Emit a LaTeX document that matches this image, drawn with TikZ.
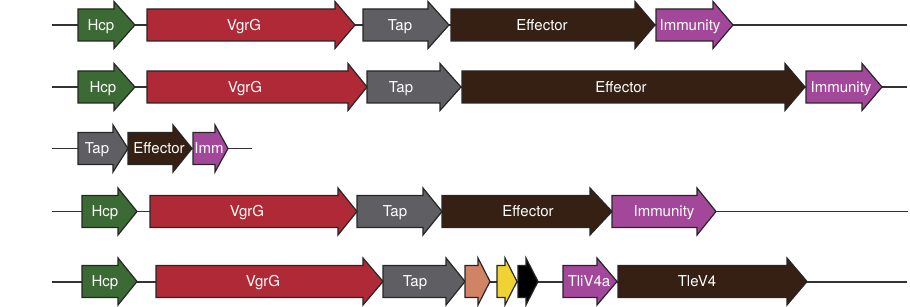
\documentclass[tikz,border=0pt]{standalone}
\usepackage{fontspec}
\setmainfont{TeX Gyre Heros}
\usepackage{xcolor}
\usepackage{tikz}
\usetikzlibrary{positioning}

\definecolor{hcpgreen}{HTML}{3B6A34}
\definecolor{vgrgred}{HTML}{AF2A36}
\definecolor{tapgrey}{HTML}{5F5E63}
\definecolor{effbrown}{HTML}{352013}
\definecolor{immpurple}{HTML}{A3479A}
\definecolor{orfsalmon}{HTML}{D08365}
\definecolor{orfyellow}{HTML}{EFD332}

% gene arrow: left end, head base, tip, y, fill colour
\newcommand{\gene}[5]{%
  \draw[genebox, fill=#5] (#1,#4-16) -- (#2,#4-16) -- (#2,#4-23.5) -- (#3,#4)
    -- (#2,#4+23.5) -- (#2,#4+16) -- (#1,#4+16) -- cycle;}

\begin{document}
\begin{tikzpicture}[
  x=1pt, y=-1pt,
  genebox/.style={draw=black!85, line width=1.2pt, line join=miter},
  genelabel/.style={text=white, font=\fontsize{15}{17}\selectfont, inner sep=0pt,
    text height=10.8pt, text depth=0pt},
  backbone/.style={draw=black!80, line width=1.4pt}
]
  \useasboundingbox (0,0) rectangle (910,307);

  % row 1
  \coordinate (r1s) at (52,25);
  \coordinate (r1e) at (907,25);
  \draw[backbone] (r1s) -- (r1e);
  \gene{78}{114}{135}{25}{hcpgreen}
  \gene{147}{335}{355}{25}{vgrgred}
  \gene{363}{428}{449}{25}{tapgrey}
  \gene{451}{635}{655}{25}{effbrown}
  \gene{656}{713}{733}{25}{immpurple}
  \node[genelabel] (r1hcp) at (101,25) {Hcp};
  \node[genelabel] (r1vgrg) at (244,25) {VgrG};
  \node[genelabel] (r1tap) at (400,25) {Tap};
  \node[genelabel] (r1eff) at (542,25) {Effector};
  \node[genelabel] (r1imm) at (690,25) {Immunity};

  % row 2
  \coordinate (r2s) at (52,87);
  \coordinate (r2e) at (907,87);
  \draw[backbone] (r2s) -- (r2e);
  \gene{78}{114}{135}{87}{hcpgreen}
  \gene{147}{348}{367}{87}{vgrgred}
  \gene{367}{440}{461}{87}{tapgrey}
  \gene{462}{785}{805}{87}{effbrown}
  \gene{806}{862}{882}{87}{immpurple}
  \node[genelabel] (r2hcp) at (103,87) {Hcp};
  \node[genelabel] (r2vgrg) at (245,87) {VgrG};
  \node[genelabel] (r2tap) at (401,87) {Tap};
  \node[genelabel] (r2eff) at (621,87) {Effector};
  \node[genelabel] (r2imm) at (841,87) {Immunity};

  % row 3
  \coordinate (r3s) at (52,148.5);
  \coordinate (r3e) at (252,148.5);
  \draw[backbone] (r3s) -- (r3e);
  \gene{78}{113}{128}{148.5}{tapgrey}
  \gene{128}{173}{192}{148.5}{effbrown}
  \gene{193}{215}{228}{148.5}{immpurple}
  \node[genelabel] (r3tap) at (97,148.5) {Tap};
  \node[genelabel] (r3eff) at (159,148.5) {Effector};
  \node[genelabel] (r3imm) at (209,148.5) {Imm};

  % row 4
  \coordinate (r4s) at (52,211.5);
  \coordinate (r4e) at (908,211.5);
  \draw[backbone] (r4s) -- (r4e);
  \gene{82}{118}{137}{211.5}{hcpgreen}
  \gene{150}{338}{357}{211.5}{vgrgred}
  \gene{357}{423}{442}{211.5}{tapgrey}
  \gene{442}{590}{612}{211.5}{effbrown}
  \gene{612}{697}{716}{211.5}{immpurple}
  \node[genelabel] (r4hcp) at (105,211.5) {Hcp};
  \node[genelabel] (r4vgrg) at (247,211.5) {VgrG};
  \node[genelabel] (r4tap) at (395,211.5) {Tap};
  \node[genelabel] (r4eff) at (528,211.5) {Effector};
  \node[genelabel] (r4imm) at (664,211.5) {Immunity};

  % row 5
  \coordinate (r5s) at (52,282);
  \coordinate (r5e) at (907,282);
  \draw[backbone] (r5s) -- (r5e);
  \gene{82}{118}{137}{281.5}{hcpgreen}
  \gene{156}{363}{383}{281.5}{vgrgred}
  \gene{383}{446}{465}{281.5}{tapgrey}
  \gene{465}{478}{490}{281.5}{orfsalmon}
  \gene{497}{505}{517}{281.5}{orfyellow}
  \gene{518}{526}{538}{281.5}{black}
  \gene{563}{597}{617}{281.5}{immpurple}
  \gene{618}{787}{807}{281.5}{effbrown}
  \node[genelabel] (r5hcp) at (105,281.5) {Hcp};
  \node[genelabel] (r5vgrg) at (263,281.5) {VgrG};
  \node[genelabel] (r5tap) at (415,281.5) {Tap};
  \node[genelabel] (r5tli) at (589,281.5) {TliV4a};
  \node[genelabel] (r5tle) at (697,281.5) {TleV4};
\end{tikzpicture}
\end{document}
